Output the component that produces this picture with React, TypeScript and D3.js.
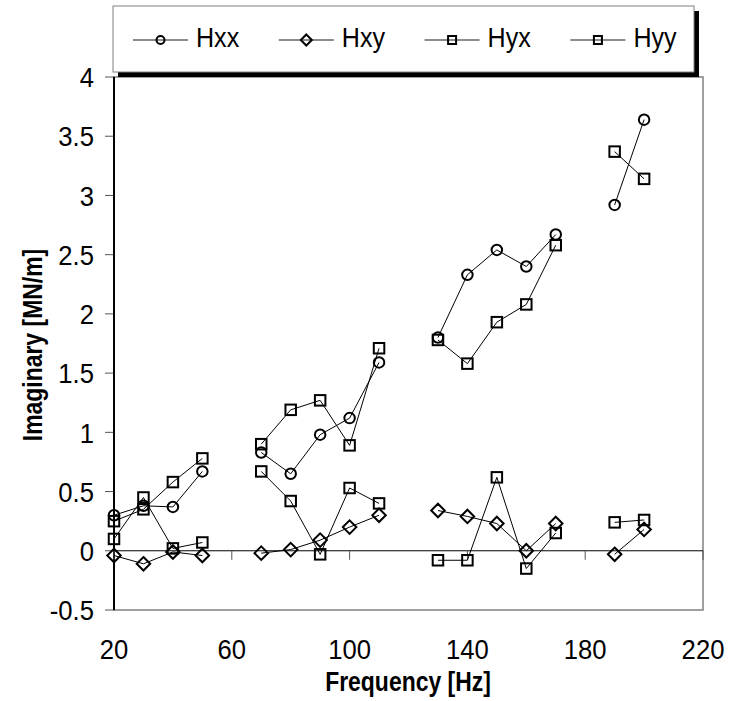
import React from "react";
import * as d3 from "d3";

// Frequencies in Hz; blank entries (null values) break the line between groups
const frequencies = [20, 30, 40, 50, 60, 70, 80, 90, 100, 110, 120, 130, 140, 150, 160, 170, 180, 190, 200];

const hxx = [0.30, 0.38, 0.37, 0.67, null, 0.83, 0.65, 0.98, 1.12, 1.59, null, 1.80, 2.33, 2.54, 2.40, 2.67, null, 2.92, 3.64];
const hxy = [-0.04, -0.11, -0.01, -0.04, null, -0.02, 0.01, 0.09, 0.20, 0.30, null, 0.34, 0.29, 0.23, 0.00, 0.23, null, -0.03, 0.18];
const hyx = [0.10, 0.45, 0.02, 0.07, null, 0.67, 0.42, -0.03, 0.53, 0.40, null, -0.08, -0.08, 0.62, -0.15, 0.15, null, 0.24, 0.26];
const hyy = [0.25, 0.35, 0.58, 0.78, null, 0.90, 1.19, 1.27, 0.89, 1.71, null, 1.78, 1.58, 1.93, 2.08, 2.58, null, 3.37, 3.14];

const seriesNames = ["Hxx", "Hxy", "Hyx", "Hyy"];
const seriesMarkers = ["circle", "diamond", "square", "square"];
const seriesValues = [hxx, hxy, hyx, hyy];

const xTicks = [20, 60, 100, 140, 180, 220];
const yTicks = [-0.5, 0, 0.5, 1, 1.5, 2, 2.5, 3, 3.5, 4];

const W = 730;
const H = 701;
const FONT = "Liberation Sans, Arial, sans-serif";

const x = d3.scaleLinear().domain([20, 220]).range([114, 703]);
const y = d3.scaleLinear().domain([-0.5, 4]).range([610, 77]);

function Marker({ kind, cx, cy, size }: { kind: string; cx: number; cy: number; size: number }) {
  const common = { fill: "none", stroke: "#000", strokeWidth: 2 };
  if (kind === "circle") return <circle cx={cx} cy={cy} r={size * 0.5} {...common} />;
  if (kind === "square")
    return <rect x={cx - size * 0.5} y={cy - size * 0.5} width={size} height={size} {...common} />;
  const h = size * 0.5;
  return <path d={`M${cx},${cy - h}L${cx + h},${cy}L${cx},${cy + h}L${cx - h},${cy}Z`} {...common} />;
}

export default function App() {
  const line = d3
    .line<[number, number | null]>()
    .defined((d) => d[1] !== null)
    .x((d) => x(d[0]))
    .y((d) => y(d[1] as number));

  const legendX0 = 133;
  const legendStep = 145.8;

  return (
    <svg
      width={W}
      height={H}
      style={{ position: "absolute", left: 0, top: 0, background: "#fff" }}
      fontFamily={FONT}
    >
      <rect x={0} y={0} width={W} height={H} fill="#fff" />

      {/* plot area frame */}
      <rect x={x(20)} y={y(4)} width={x(220) - x(20)} height={y(-0.5) - y(4)} fill="none" stroke="#808080" strokeWidth={1.5} />

      {/* y axis */}
      {yTicks.map((t) => (
        <g key={`yt${t}`}>
          <line x1={x(20) - 9} x2={x(20)} y1={y(t)} y2={y(t)} stroke="#555" strokeWidth={1} />
          <text
            transform={`translate(94,${y(t)}) scale(0.95,1.05)`}
            dy="0.36em"
            textAnchor="end"
            fontSize={27}
            fill="#000"
          >
            {t}
          </text>
        </g>
      ))}
      <line x1={x(20)} x2={x(20)} y1={y(4)} y2={y(-0.5)} stroke="#000" strokeWidth={2} />

      {/* x axis through zero */}
      <line x1={x(20)} x2={x(220)} y1={y(0)} y2={y(0)} stroke="#000" strokeWidth={1} />
      {xTicks.map((t) => (
        <g key={`xt${t}`}>
          <line x1={x(t)} x2={x(t)} y1={y(0)} y2={y(0) + 9} stroke="#555" strokeWidth={1} />
          <text
            transform={`translate(${x(t)},659) scale(0.95,1.05)`}
            textAnchor="middle"
            fontSize={27}
            fill="#000"
          >
            {t}
          </text>
        </g>
      ))}

      {/* series lines */}
      {seriesValues.map((vals, i) => (
        <path
          key={`l${i}`}
          d={line(frequencies.map((f, j) => [f, vals[j]] as [number, number | null])) || ""}
          fill="none"
          stroke="#000"
          strokeWidth={1}
        />
      ))}

      {/* series markers */}
      {seriesValues.map((vals, i) =>
        frequencies.map((f, j) =>
          vals[j] === null ? null : (
            <Marker
              key={`m${i}-${j}`}
              kind={seriesMarkers[i]}
              cx={x(f)}
              cy={y(vals[j] as number)}
              size={seriesMarkers[i] === "diamond" ? 13.5 : 10.5}
            />
          )
        )
      )}

      {/* axis titles */}
      <text
        transform="translate(408,691) scale(0.85,1)"
        textAnchor="middle"
        fontSize={27}
        fontWeight="bold"
        fill="#000"
      >
        Frequency [Hz]
      </text>
      <text
        transform="translate(42,345) rotate(-90) scale(0.85,1)"
        textAnchor="middle"
        fontSize={27}
        fontWeight="bold"
        fill="#000"
      >
        Imaginary [MN/m]
      </text>

      {/* legend */}
      <rect x={118} y={11} width={581} height={66} fill="#000" />
      <rect x={113} y={6} width={581} height={66} fill="#fff" stroke="#808080" strokeWidth={1} />
      {seriesNames.map((name, i) => {
        const lx = legendX0 + i * legendStep;
        return (
          <g key={`lg${i}`}>
            <line x1={lx} x2={lx + 55} y1={40} y2={40} stroke="#666" strokeWidth={1.3} />
            <Marker kind={seriesMarkers[i]} cx={lx + 27.5} cy={40} size={seriesMarkers[i] === "diamond" ? 11 : 8} />
            <text transform={`translate(${lx + 63},47) scale(0.93,1.05)`} fontSize={27} fill="#000">
              {name}
            </text>
          </g>
        );
      })}
    </svg>
  );
}
